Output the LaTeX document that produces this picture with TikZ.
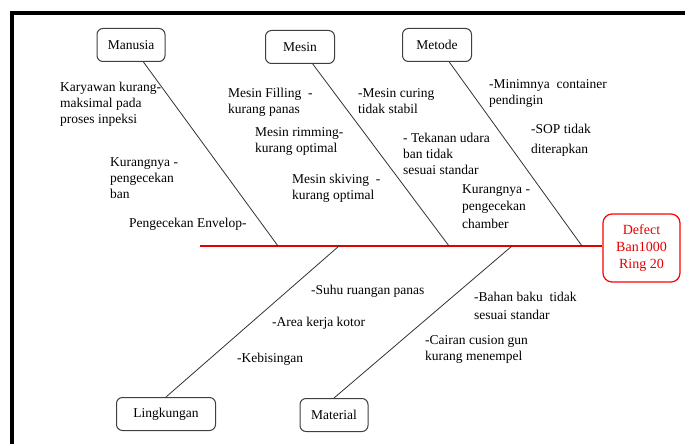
\documentclass[tikz,border=0pt]{standalone}
\usepackage{fontspec}
\setmainfont{Liberation Serif}
\newfontfamily\diagfont{Liberation Serif}
\begin{document}
\begin{tikzpicture}[x=1pt,y=-1pt,
  cause/.style={anchor=north west,inner sep=0pt,align=left,
    font=\diagfont\fontsize{13.5}{16}\selectfont},
  catbox/.style={draw=black!75,line width=1pt,rounded corners=6pt,fill=white,
    minimum height=33pt,font=\diagfont\fontsize{13.5}{16}\selectfont},
  bone/.style={draw=black!80,line width=0.8pt},
  spine/.style={draw=red!90!black,line width=2pt}]
\useasboundingbox (0,0) rectangle (685,444);
\fill[white] (0,0) rectangle (685,444);
% outer frame
\draw[line width=4pt] (12,446) -- (12,13) -- (687,13);

% effect box and spine
\node[draw=red,line width=1.2pt,rounded corners=9pt,text=red!90!black,
  minimum width=77pt,minimum height=68pt,align=center,
  font=\diagfont\fontsize{14}{17}\selectfont] (effect) at (641.5,248) {Defect\\Ban1000\\Ring 20};
\coordinate (tail) at (200,246);
\draw[spine] (tail) -- (effect.west |- tail);

% category boxes
\node[catbox,minimum width=68pt] (manusia) at (131,45) {Manusia};
\node[catbox,minimum width=69pt] (mesin) at (300,47) {Mesin};
\node[catbox,minimum width=69pt] (metode) at (437,45) {Metode};
\node[catbox,minimum width=99pt] (lingkungan) at (166,414) {Lingkungan};
\node[catbox,minimum width=68pt] (material) at (334,415) {Material};

% bone ends on the spine
\coordinate (jA) at (278,246);
\coordinate (jB) at (449,246);
\coordinate (jC) at (582,246);
\coordinate (jD) at (339,246);
\coordinate (jE) at (512,246);
\draw[bone] (jA) -- (manusia);
\draw[bone] (jB) -- (mesin);
\draw[bone] (jC) -- (metode);
\draw[bone] (jD) -- (lingkungan.north);
\draw[bone] (jE) -- (material.north);

% causes: Manusia
\node[cause] (c1) at (60,82) {Karyawan kurang-\\maksimal pada\\proses inpeksi};
\node[cause] (c2) at (110,157) {Kurangnya -\\pengecekan\\ban};
\node[cause] (c3) at (129,218) {Pengecekan Envelop-};
% causes: Mesin
\node[cause] (c4) at (228,88) {Mesin Filling\ \ -\\kurang panas};
\node[cause] (c5) at (255,127) {Mesin rimming-\\kurang optimal};
\node[cause] (c6) at (292,174) {Mesin skiving\ \ -\\kurang optimal};
\node[cause] (c7) at (358,88) {-Mesin curing\\tidak stabil};
\node[cause] (c8) at (403,133) {- Tekanan udara\\ban tidak\\sesuai standar};
% causes: Metode
\node[cause,font=\diagfont\fontsize{13.5}{17.5}\selectfont] (c9) at (462,184) {Kurangnya -\\pengecekan\\chamber};
\node[cause] (c10) at (489,79) {-Minimnya\ \ container\\pendingin};
\node[cause,font=\diagfont\fontsize{13.5}{20}\selectfont] (c11) at (531,124) {-SOP tidak\\diterapkan};
% causes: Lingkungan
\node[cause] (c12) at (311,285) {-Suhu ruangan panas};
\node[cause] (c13) at (272,317) {-Area kerja kotor};
\node[cause] (c14) at (237,353) {-Kebisingan};
% causes: Material
\node[cause,font=\diagfont\fontsize{13.5}{18}\selectfont] (c15) at (474,292) {-Bahan baku\ \ tidak\\sesuai standar};
\node[cause] (c16) at (425,335) {-Cairan cusion gun\\kurang menempel};
\end{tikzpicture}
\end{document}
